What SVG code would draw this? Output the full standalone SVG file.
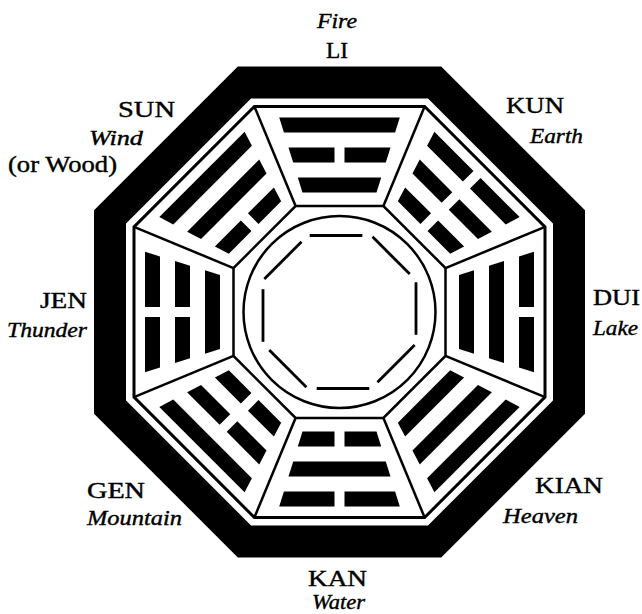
<svg xmlns="http://www.w3.org/2000/svg" xmlns:xlink="http://www.w3.org/1999/xlink" width="642" height="614" viewBox="0 0 642 614">
<style>
.lbl{font-family:"Liberation Serif","Times New Roman",serif;font-size:23px;fill:#000;stroke:#000;stroke-width:0.4}
.it{font-style:italic;font-size:22px}
.band{fill:none;stroke:#000;stroke-width:32;stroke-linejoin:miter}
.thin{fill:none;stroke:#000;stroke-width:3}
.ln{fill:none;stroke:#000;stroke-width:2.5}
.bar{fill:#000}
</style>
<defs>
<path id="s3" class="bar" d="M-60.3,-194.5 H60.3 L55.6,-179.5 H-55.6 Z"/>
<path id="b3" class="bar" d="M-60.3,-194.5 H-5 V-179.5 H-55.6 Z M5,-194.5 H60.3 L55.6,-179.5 H5 Z"/>
<path id="s2" class="bar" d="M-51,-164.5 H51 L46.3,-149.5 H-46.3 Z"/>
<path id="b2" class="bar" d="M-51,-164.5 H-5 V-149.5 H-46.3 Z M5,-164.5 H51 L46.3,-149.5 H5 Z"/>
<path id="s1" class="bar" d="M-41.7,-134.5 H41.7 L37,-119.5 H-37 Z"/>
<path id="b1" class="bar" d="M-41.7,-134.5 H-5 V-119.5 H-37 Z M5,-134.5 H41.7 L37,-119.5 H5 Z"/>
</defs>
<rect x="0" y="0" width="642" height="614" fill="#fff"/>
<g id="frame" transform="translate(339.5 312)">
<polygon class="band" points="-95.06,-229.5 95.06,-229.5 229.5,-95.06 229.5,95.06 95.06,229.5 -95.06,229.5 -229.5,95.06 -229.5,-95.06"/>
<polygon class="thin" points="-85.12,-205.5 85.12,-205.5 205.5,-85.12 205.5,85.12 85.12,205.5 -85.12,205.5 -205.5,85.12 -205.5,-85.12"/>
<polygon class="ln" points="-43.91,-106 43.91,-106 106,-43.91 106,43.91 43.91,106 -43.91,106 -106,43.91 -106,-43.91"/>
<circle class="ln" cx="0" cy="0" r="96"/>
<g id="inner-octagon" class="ln" style="stroke-width:2.8">
<line x1="-29.79" y1="-76.5" x2="22.82" y2="-76.5"/>
<line x1="33.03" y1="-75.16" x2="70.23" y2="-37.96"/>
<line x1="76.5" y1="-29.79" x2="76.5" y2="22.82"/>
<line x1="75.16" y1="33.03" x2="37.96" y2="70.23"/>
<line x1="29.79" y1="76.5" x2="-22.82" y2="76.5"/>
<line x1="-33.03" y1="75.16" x2="-70.23" y2="37.96"/>
<line x1="-76.5" y1="29.79" x2="-76.5" y2="-22.82"/>
<line x1="-75.16" y1="-33.03" x2="-37.96" y2="-70.23"/>
</g>
</g>
<g id="connectors" class="ln" transform="translate(339.5 312)">
<line x1="-43.91" y1="-106" x2="-85.12" y2="-205.5"/>
<line x1="43.91" y1="-106" x2="85.12" y2="-205.5"/>
<line x1="106" y1="-43.91" x2="205.5" y2="-85.12"/>
<line x1="106" y1="43.91" x2="205.5" y2="85.12"/>
<line x1="43.91" y1="106" x2="85.12" y2="205.5"/>
<line x1="-43.91" y1="106" x2="-85.12" y2="205.5"/>
<line x1="-106" y1="43.91" x2="-205.5" y2="85.12"/>
<line x1="-106" y1="-43.91" x2="-205.5" y2="-85.12"/>
</g>
<g id="li">
<g transform="translate(339.5 312) rotate(0)"><use href="#s1"/><use href="#b2"/><use href="#s3"/></g>
<text class="lbl it" x="317" y="28" textLength="40" lengthAdjust="spacingAndGlyphs">Fire</text>
<text class="lbl" x="326" y="58" textLength="22" lengthAdjust="spacingAndGlyphs">LI</text>
</g>
<g id="kun">
<g transform="translate(339.5 312) rotate(45)"><use href="#b1"/><use href="#b2"/><use href="#b3"/></g>
<text class="lbl" x="506" y="113" textLength="58" lengthAdjust="spacingAndGlyphs">KUN</text>
<text class="lbl it" x="530" y="143" textLength="53" lengthAdjust="spacingAndGlyphs">Earth</text>
</g>
<g id="dui">
<g transform="translate(339.5 312) rotate(90)"><use href="#s1"/><use href="#s2"/><use href="#b3"/></g>
<text class="lbl" x="593" y="305" textLength="47" lengthAdjust="spacingAndGlyphs">DUI</text>
<text class="lbl it" x="593" y="335" textLength="45" lengthAdjust="spacingAndGlyphs">Lake</text>
</g>
<g id="kian">
<g transform="translate(339.5 312) rotate(135)"><use href="#s1"/><use href="#s2"/><use href="#s3"/></g>
<text class="lbl" x="535" y="493" textLength="68" lengthAdjust="spacingAndGlyphs">KIAN</text>
<text class="lbl it" x="503" y="523" textLength="75" lengthAdjust="spacingAndGlyphs">Heaven</text>
</g>
<g id="kan">
<g transform="translate(339.5 312) rotate(180)"><use href="#b1"/><use href="#s2"/><use href="#b3"/></g>
<text class="lbl" x="308" y="586" textLength="59" lengthAdjust="spacingAndGlyphs">KAN</text>
<text class="lbl it" x="312" y="609" font-size="20" textLength="53" lengthAdjust="spacingAndGlyphs">Water</text>
</g>
<g id="gen">
<g transform="translate(339.5 312) rotate(225)"><use href="#b1"/><use href="#b2"/><use href="#s3"/></g>
<text class="lbl" x="87" y="498" textLength="58" lengthAdjust="spacingAndGlyphs">GEN</text>
<text class="lbl it" x="87" y="525" textLength="95" lengthAdjust="spacingAndGlyphs">Mountain</text>
</g>
<g id="jen">
<g transform="translate(339.5 312) rotate(270)"><use href="#s1"/><use href="#b2"/><use href="#b3"/></g>
<text class="lbl" x="40" y="308" textLength="47" lengthAdjust="spacingAndGlyphs">JEN</text>
<text class="lbl it" x="7" y="337" textLength="80" lengthAdjust="spacingAndGlyphs">Thunder</text>
</g>
<g id="sun">
<g transform="translate(339.5 312) rotate(315)"><use href="#b1"/><use href="#s2"/><use href="#s3"/></g>
<text class="lbl" x="118" y="117" textLength="57" lengthAdjust="spacingAndGlyphs">SUN</text>
<text class="lbl it" x="89" y="145" textLength="54" lengthAdjust="spacingAndGlyphs">Wind</text>
<text class="lbl" x="8" y="172" textLength="109" lengthAdjust="spacingAndGlyphs">(or Wood)</text>
</g>
</svg>
